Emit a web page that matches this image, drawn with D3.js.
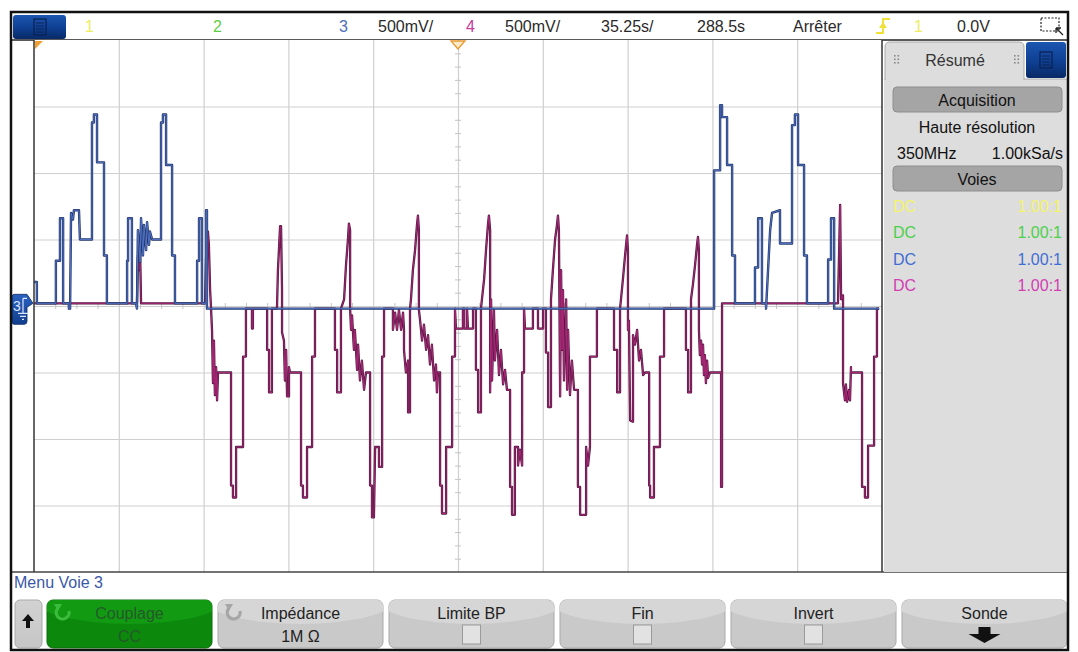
<!DOCTYPE html>
<html><head><meta charset="utf-8">
<script src="https://cdn.jsdelivr.net/npm/d3@7/dist/d3.min.js"></script>
<style>
html,body{margin:0;padding:0;background:#fff;}
svg{display:block;font-family:"Liberation Sans",Arial,sans-serif;}
</style></head><body>
<svg id="scope" width="1078" height="652"></svg>
<script>
// ================= DATA =================
const timePerDiv = 35.25;   // s/div
const voltPerDiv = 0.5;     // V/div
const hDivs = 10, vDivs = 8;
const headerLabels = ["1","2","3","500mV/","4","500mV/","35.25s/","288.5s","Arrêter","1","0.0V"];
const panelTitle = "Résumé";
const acqLabels = ["Acquisition","Haute résolution","350MHz","1.00kSa/s","Voies"];
const channelCoupling = ["DC","DC","DC","DC"];
const channelProbe = ["1.00:1","1.00:1","1.00:1","1.00:1"];
const menuTitle = "Menu Voie 3";
const softkeyLabels = ["Couplage","Impédance","Limite BP","Fin","Invert","Sonde"];
const softkeyValues = ["CC","1M Ω","","","",""];

// channel 3 (blue) : [time s, volts]
const ch3 = [[0,0.18],[1.2,0.18],[1.2,0.02],[9.1,0.02],[9.1,0.34],[10.8,0.34],[10.8,0.66],[12.1,0.66],[12.1,0.02],
[14.5,0.02],[14.5,-0.02],[15.0,-0.02],[15.4,0.70],[16.2,0.65],[16.6,0.72],[18.7,0.72],[19.1,0.50],[24.1,0.50],
[24.1,1.38],[24.9,1.38],[24.9,1.44],[26.2,1.44],[26.2,1.08],[29.1,1.08],[29.1,0.38],[30.3,0.38],[30.3,0.02],
[38.7,0.02],[38.7,0.34],[39.1,0.34],[39.1,0.66],[40.7,0.66],[40.7,0.02],[42.4,0.02],[42.8,-0.02],[43.2,0.57],
[44.1,0.33],[44.5,0.66],[45.3,0.38],[45.7,0.61],[46.6,0.42],[47.0,0.63],[47.8,0.46],[48.2,0.56],[49.1,0.50],
[52.8,0.50],[52.8,1.38],[53.6,1.38],[53.6,1.44],[54.9,1.44],[54.9,1.06],[57.4,1.06],[57.4,0.38],[58.6,0.38],
[58.6,0.02],[67.8,0.02],[67.8,0.34],[68.6,0.34],[68.6,0.66],[69.8,0.66],[69.8,0.02],[71.5,0.02],[71.5,0.72],
[71.9,0.72],[71.9,-0.02],[282.7,-0.02],[282.7,1.02],[285.2,1.02],[285.2,1.51],[286.0,1.51],[286.0,1.42],
[288.1,1.42],[288.1,1.06],[290.2,1.06],[290.2,0.38],[291.4,0.38],[291.4,0.02],[299.7,0.02],[299.7,0.29],
[301.0,0.29],[301.0,0.66],[302.6,0.66],[302.6,0.02],[304.3,0.02],[304.3,-0.02],[306.0,0.57],[306.8,0.70],
[310.1,0.72],[310.1,0.47],[315.1,0.47],[315.1,1.36],[316.3,1.36],[316.3,1.44],[317.6,1.44],[317.6,1.06],
[320.1,1.06],[320.1,0.38],[321.3,0.38],[321.3,0.02],[330.1,0.02],[330.1,0.35],[331.3,0.35],[331.3,0.66],
[332.6,0.66],[332.6,-0.02],[351.3,-0.02]];

// channel 4 (magenta) : [time s, volts]
const ch4 = [[0,0.02],[42.4,0.02],[42.8,0.02],[43.2,0.38],[43.6,0.27],[44.1,0.42],[44.5,0.02],
[71.1,0.02],[71.5,0.35],[71.9,0.53],[72.3,0.56],[72.7,0.46],[73.2,0.12],[73.6,-0.02],
[74.0,-0.18],[74.4,-0.58],[74.8,-0.26],[75.2,-0.67],[75.7,-0.46],[76.1,-0.71],[76.5,-0.50],[81.9,-0.50],[81.9,-1.35],[82.7,-1.35],[82.7,-1.44],[84.0,-1.44],[84.0,-1.06],[86.9,-1.06],[86.9,-0.38],[88.1,-0.38],[88.1,-0.02],
[90.6,-0.02],[90.6,-0.17],[91.0,-0.17],[91.0,-0.02],
[96.9,-0.02],[96.9,-0.33],[97.7,-0.33],[97.7,-0.65],[98.9,-0.65],[98.9,-0.02],
[101.0,-0.02],[101.4,0.27],[102.3,0.60],[102.7,0.60],[103.1,0.12],[103.1,-0.20],[103.9,-0.26],[104.3,-0.56],[104.8,-0.33],[105.2,-0.68],[106.0,-0.68],[106.0,-0.46],[106.4,-0.50],[111.0,-0.50],[111.0,-1.35],[111.8,-1.35],[111.8,-1.44],[113.5,-1.44],[113.5,-1.06],[115.6,-1.06],[115.6,-0.38],[116.8,-0.38],[116.8,-0.02],
[125.1,-0.02],[125.1,-0.33],[126.0,-0.33],[126.0,-0.65],[127.6,-0.65],[127.6,-0.02],
[128.9,0.05],[129.7,0.31],[130.5,0.50],[130.9,0.62],[131.4,0.57],[131.4,-0.02],[131.8,-0.18],[132.2,-0.07],[133.0,-0.33],[133.4,-0.18],[134.3,-0.48],[134.7,-0.29],[135.5,-0.56],[136.3,-0.41],[137.2,-0.63],[138.0,-0.50],[139.7,-0.50],[139.7,-1.35],[140.5,-1.35],[140.5,-1.59],[141.3,-1.59],[141.8,-1.06],[143.4,-1.06],[143.4,-1.21],[144.7,-1.21],[144.7,-0.38],[145.5,-0.38],[145.5,-0.02],
[149.2,-0.02],[149.2,-0.18],[150.1,-0.05],[150.9,-0.18],[151.7,-0.03],[152.6,-0.18],[153.4,-0.05],[153.8,-0.18],[153.8,-0.33],[154.6,-0.50],[155.5,-0.41],[155.5,-0.80],[156.3,-0.80],[156.3,-0.02],
[156.7,0.05],[157.5,0.27],[158.4,0.42],[159.2,0.61],[159.6,0.68],[160.0,0.57],[160.0,-0.03],[160.5,-0.11],[161.3,-0.26],[162.1,-0.14],[163.0,-0.33],[163.8,-0.22],[164.6,-0.44],[165.4,-0.29],[166.3,-0.56],[167.1,-0.44],[167.5,-0.65],[167.9,-0.50],[168.8,-0.50],[168.8,-1.35],[169.6,-1.35],[169.6,-1.56],[171.3,-1.56],[171.3,-1.06],[173.8,-1.06],[173.8,-0.38],[175.0,-0.38],[175.0,-0.02],
[175.4,-0.17],[178.3,-0.17],[178.3,-0.02],[178.8,-0.02],[178.8,-0.17],[180.0,-0.17],[180.0,-0.02],[180.4,-0.17],[182.5,-0.17],[182.5,-0.02],
[183.7,-0.02],[183.7,-0.48],[184.6,-0.48],[184.6,-0.80],[185.8,-0.80],[185.8,-0.02],
[186.2,0.05],[187.1,0.20],[187.9,0.42],[188.7,0.61],[189.1,0.68],[189.6,0.57],[189.6,-0.65],[190.0,0.05],[190.4,-0.56],[191.2,-0.03],[191.6,-0.41],[192.5,-0.18],[193.3,-0.52],[194.1,-0.33],[195.0,-0.59],[195.8,-0.48],[196.6,-0.63],[197.9,-0.63],[197.9,-1.36],[198.7,-1.36],[198.7,-1.57],[199.9,-1.57],[199.9,-1.06],[201.2,-1.06],[201.2,-1.20],[202.0,-1.08],[202.9,-1.20],[202.9,-0.50],[203.7,-0.50],[203.7,-0.02],
[204.1,-0.17],[207.4,-0.17],[207.4,-0.02],[209.5,-0.02],[209.5,-0.17],[211.6,-0.17],[211.6,-0.02],
[212.8,-0.02],[212.8,-0.35],[213.7,-0.35],[213.7,-0.76],[214.9,-0.76],[214.9,0.05],
[215.7,0.27],[216.6,0.50],[217.4,0.61],[217.8,0.68],[218.2,0.57],[218.7,-0.68],[219.1,0.27],[219.5,-0.33],[219.9,0.12],[220.3,-0.56],[221.2,0.05],[221.6,-0.63],[222.0,-0.18],[222.8,-0.67],[223.6,-0.41],[224.5,-0.63],[226.1,-0.63],[226.1,-1.36],[227.0,-1.36],[227.0,-1.57],[229.5,-1.57],[229.5,-1.06],[230.3,-1.20],[231.1,-1.06],[231.1,-0.38],[234.0,-0.38],[234.0,-0.02],
[241.1,-0.02],[241.1,-0.33],[242.4,-0.33],[242.4,-0.65],[243.6,-0.65],[243.6,-0.02],
[244.0,0.05],[244.8,0.20],[245.7,0.38],[246.5,0.53],[246.9,0.42],[246.9,-0.18],[247.3,-0.11],[247.8,-0.86],[249.0,-0.87],[249.0,-0.22],[249.8,-0.29],[250.7,-0.18],[251.5,-0.41],[252.3,-0.33],[253.2,-0.52],[254.0,-0.50],[255.7,-0.50],[255.7,-1.35],[256.1,-1.35],[256.1,-1.44],[257.7,-1.44],[257.7,-1.06],[260.2,-1.06],[260.2,-0.38],[261.9,-0.38],[261.9,-0.02],
[271.0,-0.02],[271.0,-0.33],[271.9,-0.33],[271.9,-0.65],[273.1,-0.65],[273.1,0.05],
[273.9,0.16],[274.8,0.31],[275.6,0.46],[276.0,0.52],[276.4,0.42],[276.4,-0.18],[276.8,-0.37],[277.3,-0.26],[277.7,-0.44],[278.1,-0.29],[278.5,-0.52],[278.9,-0.37],[279.3,-0.58],[279.8,-0.41],[280.2,-0.54],[281.0,-0.50],[285.6,-0.50],[285.6,-1.36],[286.0,-1.36],[286.0,0.02],
[334.2,0.02],[335.1,0.76],[335.5,0.05],[336.3,0.08],[336.3,-0.58],[337.1,-0.71],[337.5,-0.59],[338.0,-0.72],[338.8,-0.63],[339.2,-0.71],[339.6,-0.46],[339.6,-0.50],[344.2,-0.50],[344.2,-1.36],[345.4,-1.36],[345.4,-1.44],[346.7,-1.44],[346.7,-1.05],[349.2,-1.05],[349.2,-0.38],[350.4,-0.38],[350.4,-0.02],[351.3,-0.02]];

// ================= LAYOUT =================
const svg = d3.select("#scope");
const P = {l:34, r:882, t:40, b:572};
const x = d3.scaleLinear().domain([0, timePerDiv*hDivs]).range([P.l, P.r]);
const y = d3.scaleLinear().domain([-voltPerDiv*vDivs/2, voltPerDiv*vDivs/2]).range([P.b, P.t]);

const defs = svg.append("defs");
function grad(id, stops){
  const g = defs.append("linearGradient").attr("id",id).attr("x1",0).attr("y1",0).attr("x2",0).attr("y2",1);
  stops.forEach(s=>g.append("stop").attr("offset",s[0]).attr("stop-color",s[1]));
}
grad("blueBtn",[[0,"#1c56b0"],[0.55,"#0e3f92"],[1,"#082a66"]]);
grad("greyBtn",[[0,"#d2d2d2"],[1,"#c6c6c6"]]);
grad("chMark",[[0,"#2a62c0"],[1,"#123f8e"]]);
defs.append("clipPath").attr("id","plotClip").append("rect")
  .attr("x",P.l).attr("y",P.t).attr("width",P.r-P.l).attr("height",P.b-P.t);

svg.append("rect").attr("width",1078).attr("height",652).attr("fill","#fff");

// ---------- header ----------
svg.append("rect").attr("x",13).attr("y",15).attr("width",53).attr("height",24).attr("rx",3)
  .attr("fill","url(#blueBtn)");
svg.append("rect").attr("x",34).attr("y",19).attr("width",12).attr("height",16)
  .attr("fill","none").attr("stroke","#0b2150").attr("stroke-width",1.2);
[23,26,29,32].forEach(v=>svg.append("line").attr("x1",36).attr("x2",44).attr("y1",v).attr("y2",v)
  .attr("stroke","#0b2150").attr("stroke-width",0.9));

const headerX = [85,213,339,378,466,505,601,697,793,914,957];
const headerCol = ["#eded5c","#5fce45","#4f6fb8","#2a2a2a","#c8379c","#2a2a2a","#2a2a2a","#2a2a2a","#2a2a2a","#eded5c","#2a2a2a"];
svg.append("g").selectAll("text").data(headerLabels).join("text")
  .attr("x",(d,i)=>headerX[i]).attr("y",32).attr("font-size",16)
  .attr("fill",(d,i)=>headerCol[i]).text(d=>d);
// trigger edge icon
svg.append("path").attr("d","M876,33 H883 V19 H890").attr("fill","none").attr("stroke","#f0e03a").attr("stroke-width",2);
svg.append("path").attr("d","M879,28 L883,22 L887,28 Z").attr("fill","#f0e03a");
// zoom icon
svg.append("rect").attr("x",1041).attr("y",18).attr("width",18).attr("height",13)
  .attr("fill","none").attr("stroke","#222").attr("stroke-width",1.2).attr("stroke-dasharray","2,1.5");
svg.append("path").attr("d","M1056,28 L1063,35 M1056,28 L1056,33 M1056,28 L1061,28").attr("stroke","#222").attr("stroke-width",1.3).attr("fill","none");

svg.append("line").attr("x1",12).attr("x2",1067).attr("y1",P.t).attr("y2",P.t).attr("stroke","#222").attr("stroke-width",1.5);

// ---------- plot grid ----------
const plotG = svg.append("g");
plotG.append("rect").attr("x",P.l).attr("y",P.t).attr("width",P.r-P.l).attr("height",P.b-P.t).attr("fill","#fff");
const gridT = d3.range(1,hDivs).map(i=>i*timePerDiv);
const gridV = d3.range(1,vDivs).map(i=>-voltPerDiv*vDivs/2 + i*voltPerDiv);
plotG.append("g").attr("transform",`translate(0,${P.b})`)
  .call(d3.axisBottom(x).tickValues(gridT).tickSize(-(P.b-P.t)).tickFormat(""))
  .call(g=>g.select(".domain").remove())
  .selectAll("line").attr("stroke","#cfcfcf").attr("stroke-width",1.2);
plotG.append("g").attr("transform",`translate(${P.l},0)`)
  .call(d3.axisLeft(y).tickValues(gridV).tickSize(-(P.r-P.l)).tickFormat(""))
  .call(g=>g.select(".domain").remove())
  .selectAll("line").attr("stroke","#cfcfcf").attr("stroke-width",1.2);
const minorT = d3.range(0, hDivs*4+1).map(i=>i*timePerDiv/4).filter((d,i)=>i%4!==0);
const minorV = d3.range(0, vDivs*5+1).map(i=>-voltPerDiv*vDivs/2 + i*voltPerDiv/5).filter((d,i)=>i%5!==0);
[d3.axisTop, d3.axisBottom].forEach(ax=>{
  plotG.append("g").attr("transform",`translate(0,${y(0)})`)
    .call(ax(x).tickValues(minorT).tickSize(3).tickFormat(""))
    .call(g=>g.select(".domain").remove())
    .selectAll("line").attr("stroke","#c4c4c4");
});
[d3.axisLeft, d3.axisRight].forEach(ax=>{
  plotG.append("g").attr("transform",`translate(${x(timePerDiv*hDivs/2)},0)`)
    .call(ax(y).tickValues(minorV).tickSize(3).tickFormat(""))
    .call(g=>g.select(".domain").remove())
    .selectAll("line").attr("stroke","#c4c4c4");
});

// ---------- traces (dark envelope + coloured core, like the scope's hi-res rendering) ----------
const line = d3.line().x(d=>x(d[0])).y(d=>y(d[1]));
const traces = svg.append("g").attr("clip-path","url(#plotClip)");
traces.append("path").datum(ch4).attr("d",line).attr("fill","none")
  .attr("stroke","#4e1a40").attr("stroke-width",2.3).attr("stroke-linejoin","round");
traces.append("path").datum(ch4).attr("d",line).attr("fill","none")
  .attr("stroke","#b3287c").attr("stroke-width",0.9).attr("stroke-linejoin","round");
traces.append("path").datum(ch3).attr("d",line).attr("fill","none")
  .attr("stroke","#26386c").attr("stroke-width",2.4).attr("stroke-linejoin","round");
traces.append("path").datum(ch3).attr("d",line).attr("fill","none")
  .attr("stroke","#4f72c4").attr("stroke-width",1).attr("stroke-linejoin","round");

// plot borders
svg.append("line").attr("x1",P.l).attr("x2",P.l).attr("y1",P.t).attr("y2",P.b).attr("stroke","#333").attr("stroke-width",1.5);
svg.append("line").attr("x1",P.r).attr("x2",P.r).attr("y1",P.t).attr("y2",P.b).attr("stroke","#333").attr("stroke-width",1.5);
svg.append("line").attr("x1",12).attr("x2",1067).attr("y1",P.b).attr("y2",P.b).attr("stroke","#444").attr("stroke-width",1.5);

// markers
svg.append("path").attr("d",`M${P.l+1},${P.t+1} L${P.l+9},${P.t+1} L${P.l+1},${P.t+9} Z`).attr("fill","#f0a030");
const xc = x(timePerDiv*hDivs/2);
svg.append("path").attr("d",`M${xc-7},${P.t+1} L${xc+7},${P.t+1} L${xc},${P.t+9} Z`)
  .attr("fill","#fce9c8").attr("stroke","#e89a30").attr("stroke-width",1.3);
const yg = y(0.02);
svg.append("path").attr("d",`M14,${yg-9} H27 L33,${yg} L27,${yg+4} V${yg+18} Q27,${yg+21} 24,${yg+21} H14 Q12,${yg+21} 12,${yg+18} V${yg-6} Q12,${yg-9} 14,${yg-9} Z`)
  .attr("fill","url(#chMark)").attr("stroke","#0a2a66").attr("stroke-width",0.8);
svg.append("text").attr("x",13).attr("y",yg+8).attr("font-size",14).attr("fill","#dbe6ff").text("3");
svg.append("path").attr("d",`M23,${yg-5} V${yg+10} M18,${yg+10} H28 M20,${yg+13} H26 M22,${yg+16} H24 M23,${yg-5} H27`)
  .attr("stroke","#dbe6ff").attr("stroke-width",1.2).attr("fill","none");

// ---------- right panel ----------
svg.append("rect").attr("x",884).attr("y",79).attr("width",183).attr("height",P.b-79).attr("fill","#dddddd");
svg.append("path").attr("d","M885,80 V47 Q885,42 890,42 H1019 Q1024,42 1024,47 V80")
  .attr("fill","#dddddd").attr("stroke","#aaaaaa").attr("stroke-width",1);
svg.append("line").attr("x1",1024).attr("x2",1067).attr("y1",79).attr("y2",79).attr("stroke","#aaa");
svg.append("rect").attr("x",1026).attr("y",42).attr("width",40).attr("height",36).attr("rx",3).attr("fill","url(#blueBtn)");
svg.append("rect").attr("x",1040).attr("y",52).attr("width",12).attr("height",16).attr("fill","none").attr("stroke","#0b2150").attr("stroke-width",1.2);
[56,59,62,65].forEach(v=>svg.append("line").attr("x1",1042).attr("x2",1050).attr("y1",v).attr("y2",v).attr("stroke","#0b2150").attr("stroke-width",0.9));
[894,1014].forEach(px=>{
  for(let r=0;r<3;r++) for(let c=0;c<2;c++)
    svg.append("rect").attr("x",px+c*3.5).attr("y",55+r*3.5).attr("width",1.6).attr("height",1.6).attr("fill","#888");
});
svg.append("text").attr("x",955).attr("y",66).attr("text-anchor","middle").attr("font-size",16).attr("fill","#333").text(panelTitle);
function bar(y0,label){
  svg.append("rect").attr("x",893).attr("y",y0).attr("width",169).attr("height",25).attr("rx",4)
    .attr("fill","#a5a5a5").attr("stroke","#8e8e8e");
  svg.append("text").attr("x",977).attr("y",y0+19).attr("text-anchor","middle").attr("font-size",16).attr("fill","#111").text(label);
}
bar(87, acqLabels[0]);
svg.append("text").attr("x",977).attr("y",133).attr("text-anchor","middle").attr("font-size",16).attr("fill","#111").text(acqLabels[1]);
svg.append("text").attr("x",897).attr("y",159).attr("font-size",16).attr("fill","#111").text(acqLabels[2]);
svg.append("text").attr("x",1063).attr("y",159).attr("text-anchor","end").attr("font-size",16).attr("fill","#111").text(acqLabels[3]);
bar(166, acqLabels[4]);
const rowCol = ["#f4f46a","#4bd04b","#3f6ed4","#d23db2"];
channelCoupling.forEach((c,i)=>{
  svg.append("text").attr("x",893).attr("y",212+i*26.3).attr("font-size",16).attr("fill",rowCol[i]).text(c);
  svg.append("text").attr("x",1062).attr("y",212+i*26.3).attr("text-anchor","end").attr("font-size",16).attr("fill",rowCol[i]).text(channelProbe[i]);
});

// ---------- bottom menu ----------
svg.append("text").attr("x",14).attr("y",588).attr("font-size",16).attr("fill","#3a58a8").text(menuTitle);
svg.append("rect").attr("x",15).attr("y",600).attr("width",27).attr("height",48).attr("rx",5)
  .attr("fill","url(#greyBtn)").attr("stroke","#a9a9a9");
svg.append("path").attr("d","M28,614 L22,621 L26,621 L26,628 L30,628 L30,621 L34,621 Z").attr("fill","#111");
const bw = 165, bstep = 171, bx0 = 47;
softkeyLabels.forEach((lab,i)=>{
  const bx = bx0 + i*bstep, cx = bx + bw/2;
  const g = svg.append("g");
  const cid = "bclip"+i;
  defs.append("clipPath").attr("id",cid).append("rect").attr("x",bx).attr("y",600).attr("width",bw).attr("height",48).attr("rx",6);
  const green = i===0;
  g.append("rect").attr("x",bx).attr("y",600).attr("width",bw).attr("height",48).attr("rx",6)
    .attr("fill",green?"#0c880c":"#c9c9c9").attr("stroke",green?"#0a6e0a":"#a9a9a9");
  g.append("ellipse").attr("cx",cx).attr("cy",598).attr("rx",bw/2+14).attr("ry",26)
    .attr("fill",green?"#139a13":"#d6d6d6").attr("clip-path",`url(#${cid})`);
  g.append("text").attr("x",cx).attr("y",619).attr("text-anchor","middle").attr("font-size",16)
    .attr("fill",green?"#24592a":"#222").text(lab);
  if(softkeyValues[i]) g.append("text").attr("x",cx).attr("y",642).attr("text-anchor","middle").attr("font-size",16)
    .attr("fill",green?"#24592a":"#222").text(softkeyValues[i]);
  if(i>=2 && i<=4) g.append("rect").attr("x",cx-9).attr("y",625).attr("width",18).attr("height",19)
    .attr("fill","#e2e2e2").attr("stroke","#9a9a9a");
  if(i<=1){
    const ix = bx+16, iy = 612;
    g.append("path").attr("d",`M${ix-5},${iy-4} A6.5,6.5 0 1 0 ${ix+6},${iy-1}`).attr("fill","none")
      .attr("stroke",green?"#3cbc3c":"#a6a6a6").attr("stroke-width",3);
    g.append("path").attr("d",`M${ix-9},${iy-8} L${ix-1},${iy-8} L${ix-5},${iy-1} Z`).attr("fill",green?"#3cbc3c":"#a6a6a6");
  }
  if(i===5){
    g.append("path").attr("d",`M${cx},643 L${cx-16},634 L${cx-6},634 L${cx-6},627 L${cx+6},627 L${cx+6},634 L${cx+16},634 Z`).attr("fill","#111");
  }
});

svg.append("rect").attr("x",11).attr("y",12).attr("width",1057).attr("height",638)
  .attr("fill","none").attr("stroke","#111").attr("stroke-width",2.5);
</script>
</body></html>
